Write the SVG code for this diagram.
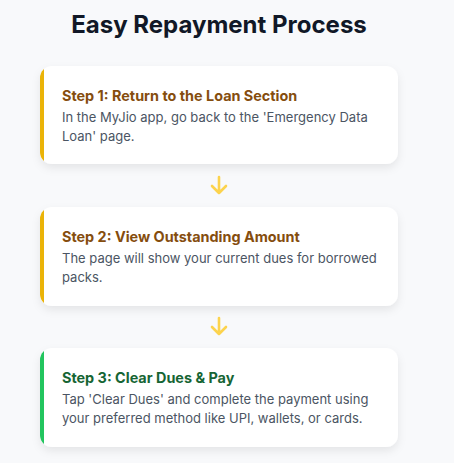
<svg xmlns="http://www.w3.org/2000/svg" width="454" height="463" viewBox="0 0 454 463">
<defs>
<filter id="sh" x="-10%" y="-20%" width="120%" height="150%">
<feDropShadow dx="0" dy="4" stdDeviation="4" flood-color="#000" flood-opacity="0.08"/>
</filter>
<clipPath id="c1"><rect x="40" y="66" width="358" height="98" rx="12"/></clipPath>
<clipPath id="c2"><rect x="40" y="207" width="358" height="99" rx="12"/></clipPath>
<clipPath id="c3"><rect x="40" y="348" width="358" height="99" rx="12"/></clipPath>
</defs>
<style>
.h{font-family:Inter,"Liberation Sans",sans-serif;font-weight:700;font-size:24px;fill:#111827}
.t{font-family:Inter,"Liberation Sans",sans-serif;font-weight:700;font-size:14.4px}
.y{fill:#854d0e}
.g{fill:#166534}
.b{font-family:Inter,"Liberation Sans",sans-serif;font-size:13px;fill:#4b5563}
.card{fill:#fff}
.arr{fill:none;stroke:#fcd34d;stroke-width:2.6;stroke-linecap:round;stroke-linejoin:round}
</style>
<rect width="454" height="463" fill="#f8f9fb"/>
<text class="h" x="219" y="33" text-anchor="middle">Easy Repayment Process</text>
<g id="step1">
<rect class="card" x="40" y="66" width="358" height="98" rx="12" filter="url(#sh)"/>
<rect x="40" y="66" width="4" height="98" fill="#eab308" clip-path="url(#c1)"/>
<text class="t y" x="62" y="101">Step 1: Return to the Loan Section</text>
<text class="b" x="62" y="122">In the MyJio app, go back to the 'Emergency Data</text>
<text class="b" x="62" y="141">Loan' page.</text>
</g>
<g id="step2">
<rect class="card" x="40" y="207" width="358" height="99" rx="12" filter="url(#sh)"/>
<rect x="40" y="207" width="4" height="99" fill="#eab308" clip-path="url(#c2)"/>
<text class="t y" x="62" y="242">Step 2: View Outstanding Amount</text>
<text class="b" x="62" y="263">The page will show your current dues for borrowed</text>
<text class="b" x="62" y="282">packs.</text>
</g>
<g id="step3">
<rect class="card" x="40" y="348" width="358" height="99" rx="12" filter="url(#sh)"/>
<rect x="40" y="348" width="4" height="99" fill="#22c55e" clip-path="url(#c3)"/>
<text class="t g" x="62" y="383">Step 3: Clear Dues &amp; Pay</text>
<text class="b" x="62" y="404">Tap 'Clear Dues' and complete the payment using</text>
<text class="b" x="62" y="423">your preferred method like UPI, wallets, or cards.</text>
</g>
<g id="connectors">
<path class="arr" d="M219 177 V193 M212 186 L219 193 L226 186"/>
<path class="arr" d="M219 318 V334 M212 327 L219 334 L226 327"/>
</g>
</svg>
